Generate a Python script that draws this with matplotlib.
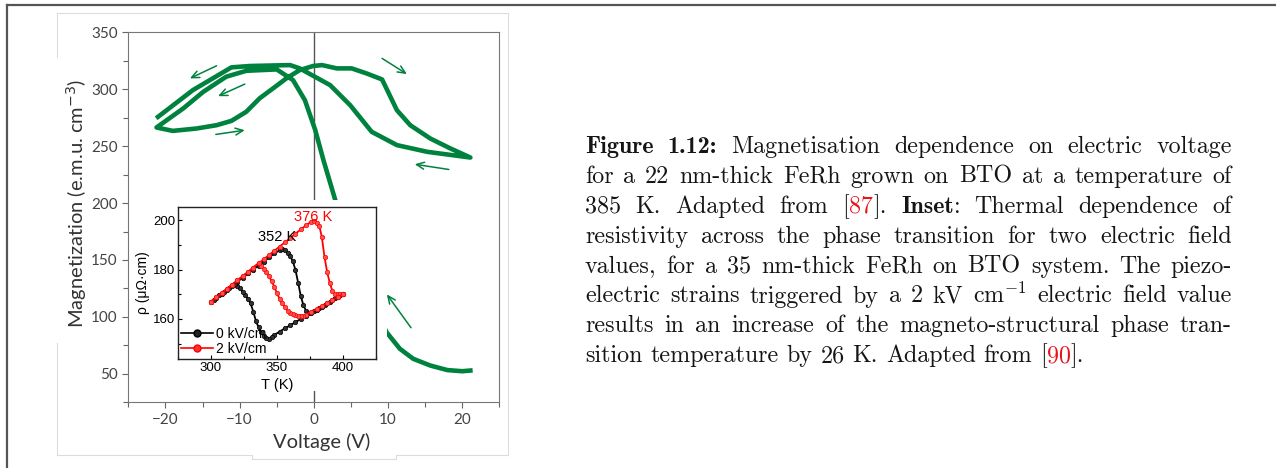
import re
import matplotlib.pyplot as plt
from matplotlib.patches import Rectangle
from matplotlib.lines import Line2D
from matplotlib.ticker import MultipleLocator

W, H = 1276, 468
green = '#00823f'
ink = '#151515'
red = '#e8141b'

# magnetisation loop: first sweep from +21 V, then the full loop
volt = [21.1, 20.0, 18.0, 15.7, 13.4, 11.6, 9.8, 7.0, 4.8, 2.9, 1.3, 0.2, -1.2, -2.8, -5.0, -9.1, -11.8, -14.9, -17.6, -21.2,
        -19.0, -15.8, -13.1, -11.1, -9.1, -7.3, -5.5, -3.7, -1.9, -0.1, 1.1, 3.1, 5.1, 7.1, 9.2, 11.2, 13.0, 15.7, 18.4, 21.1,
        15.3, 11.2, 7.8, 4.9, 2.2, -1.9, -3.2, -8.6, -11.1, -16.3, -21.0]
mag = [52.9, 52.3, 53.3, 57.3, 63.2, 72.0, 86.6, 125, 165, 202.5, 237.7, 264, 290.4, 308, 317.4, 316.2, 311, 297.7, 283.1, 266.4,
       263.4, 265.5, 268.4, 272.2, 280.2, 292, 300.7, 309.5, 316.8, 320.4, 321.2, 318.3, 318.3, 313.9, 308.6, 281.6, 268.4, 256.7, 248, 240,
       245, 250.9, 262.6, 286, 303.6, 318.3, 321.2, 320.4, 319.2, 299.2, 275.7]

# sweep direction arrows (tail -> head)
arrow_tail = [(-13.1, 320.6), (-9.3, 304.5), (-13.2, 260.3), (9.2, 327.1), (18.2, 229.5), (13.1, 90.5)]
arrow_head = [(-16.7, 309.5), (-12.9, 293.9), (-9.3, 264.0), (12.55, 313.3), (13.6, 234.1), (9.85, 119.8)]

# inset: resistivity vs temperature, 0 kV/cm
t0_up = [300, 304, 308, 312, 316, 320, 324, 328, 332, 336, 340, 344, 348, 352, 354, 356, 358, 360, 362, 364, 366, 368, 370,
         372, 374, 378, 382, 386, 390, 394, 398, 400]
r0_up = [167.0, 168.6, 170.2, 171.9, 173.5, 175.1, 176.7, 178.4, 180.0, 181.6, 183.2, 184.9, 186.5, 187.8, 188.2, 187.8, 186.8,
         185.5, 183.3, 179.8, 174.7, 169.3, 165.6, 163.3, 162.5, 163.2, 164.5, 165.8, 167.0, 168.3, 169.5, 170.1]
t0_dn = [400, 396, 392, 388, 384, 380, 376, 372, 368, 364, 360, 356, 352, 348, 346, 344, 342, 340, 338, 336, 334, 332, 330,
         328, 326, 324, 322, 320, 318, 314, 310, 306, 302, 300]
r0_dn = [170.0, 168.8, 167.5, 166.3, 165.0, 163.8, 162.5, 161.2, 160.0, 158.7, 157.4, 156.2, 154.9, 153.5, 152.6, 152.0, 152.2,
         153.2, 154.6, 156.6, 159.3, 163.0, 166.3, 168.0, 169.6, 171.0, 172.4, 173.4, 174.0, 172.7, 171.1, 169.5, 167.8, 167.0]
# 2 kV/cm
t2_up = [300, 304, 308, 312, 316, 320, 324, 328, 332, 336, 340, 344, 348, 352, 356, 360, 364, 368, 372, 376, 378, 380, 382,
         384, 386, 388, 390, 392, 394, 396, 398, 400]
r2_up = [167.0, 168.7, 170.4, 172.2, 173.9, 175.6, 177.3, 179.0, 180.8, 182.5, 184.2, 185.9, 187.6, 189.3, 191.0, 192.7, 194.5,
         196.2, 197.9, 199.4, 199.7, 199.0, 197.8, 193.0, 185.0, 179.0, 174.5, 171.3, 170.3, 170.0, 170.0, 170.0]
t2_dn = [400, 396, 392, 388, 384, 380, 376, 372, 370, 368, 366, 364, 362, 360, 358, 356, 354, 352, 350, 348, 346, 344, 342,
         340, 338, 336, 332, 328, 324, 320, 316, 312, 308, 304, 300]
r2_dn = [170.0, 168.8, 167.6, 166.4, 165.2, 164.1, 162.9, 161.8, 161.3, 161.3, 161.4, 161.6, 162.0, 162.5, 163.4, 164.8, 166.3,
         168.1, 170.4, 173.0, 175.2, 177.2, 178.9, 180.4, 181.6, 182.5, 180.8, 179.0, 177.3, 175.6, 173.9, 172.2, 170.4, 168.7, 167.0]

# *bold*, |red|
caption = [
    "*Figure* *1.12:* Magnetisation dependence on electric voltage",
    "for a 22 nm-thick FeRh grown on BTO at a temperature of",
    "385 K. Adapted from [|87|]. *Inset*: Thermal dependence of",
    "resistivity across the phase transition for two electric field",
    "values, for a 35 nm-thick FeRh on BTO system. The piezo-",
    "electric strains triggered by a 2 kV cm$^{-1}$ electric field value",
    "results in an increase of the magneto-structural phase tran-",
    "sition temperature by 26 K. Adapted from [|90|].",
]


def fx(x):
    return x / W


def fy(y):
    return 1 - y / H


sans = ['Lato', 'DejaVu Sans']
fig = plt.figure(figsize=(W / 100, H / 100), dpi=100)

# page frame
fig.add_artist(Line2D([fx(7), 1], [fy(5), fy(5)], color='#555555', lw=1.6))
fig.add_artist(Line2D([fx(7), fx(7)], [fy(5), 0], color='#555555', lw=1.6))
# border of the pasted figure
pale = '#dcdcdc'
for xs, ys in [([57, 57], [13, 57]), ([57, 57], [343, 455]), ([57, 508], [13, 13]), ([508, 508], [13, 455]),
               ([57, 252, 252, 396, 396, 508], [455, 455, 459, 459, 455, 455])]:
    fig.add_artist(Line2D([fx(v) for v in xs], [fy(v) for v in ys], color=pale, lw=0.8))

# main panel
ax = fig.add_axes([fx(128.3), fy(402.3), (499.3 - 128.3) / W, (402.3 - 32.3) / H])
ax.plot(volt, mag, color=green, lw=3.3, solid_joinstyle='round', zorder=3)
ax.axvline(0, color='#555555', lw=1.0, zorder=2)
for (x0, y0), (x1, y1) in zip(arrow_tail, arrow_head):
    ax.annotate('', xy=(x1, y1), xytext=(x0, y0),
                arrowprops=dict(arrowstyle='->,head_length=0.55,head_width=0.25', color=green, lw=1.1,
                                shrinkA=0, shrinkB=0))
ax.set_xlim(-25, 25)
ax.set_ylim(25, 350)
ax.set_xticks([-20, -10, 0, 10, 20])
ax.set_xticklabels(['\u221220', '\u221210', '0', '10', '20'])
ax.xaxis.set_minor_locator(MultipleLocator(5))
ax.set_yticks([50, 100, 150, 200, 250, 300, 350])
ax.yaxis.set_minor_locator(MultipleLocator(25))
ax.tick_params(which='both', direction='out', color='#666666', width=0.8)
ax.tick_params(which='major', length=4.5, labelsize=11, labelcolor='#444444', pad=3)
ax.tick_params(which='minor', length=3.5)
for lab in ax.get_xticklabels() + ax.get_yticklabels():
    lab.set_family(sans)
for s in ax.spines.values():
    s.set_color('#777777')
    s.set_linewidth(0.8)
fig.text(fx(322), fy(442), 'Voltage (V)', ha='center', va='center', fontsize=14.5, color='#333333', family=sans)
fig.text(fx(77), fy(203), 'Magnetization (e.m.u. cm$^{-3}$)', rotation=90, ha='center', va='center',
         fontsize=14.5, color='#333333', family=sans, math_fontfamily='dejavusans')

# white card behind the inset
fig.add_artist(Rectangle((fx(135), fy(391)), (387 - 135) / W, (391 - 200) / H, transform=fig.transFigure,
                         facecolor='white', edgecolor='none', zorder=1))

# inset panel
arial = ['Liberation Sans', 'DejaVu Sans']
axi = fig.add_axes([fx(178), fy(359), (376 - 178) / W, (359 - 207) / H])
axi.set_zorder(2)
kw = dict(marker='o', ms=3.2, lw=1.3, mew=0.5)
axi.plot(t0_up, r0_up, color='black', mfc='#333333', **kw)
axi.plot(t0_dn, r0_dn, color='black', mfc='#333333', **kw)
axi.plot(t2_up, r2_up, color='#ff0000', mfc='#ff5050', **kw)
axi.plot(t2_dn, r2_dn, color='#ff0000', mfc='#ff5050', **kw)
axi.set_xlim(275, 425)
axi.set_ylim(143.8, 205.3)
axi.set_xticks([300, 350, 400])
axi.xaxis.set_minor_locator(MultipleLocator(25))
axi.set_yticks([160, 180, 200])
axi.yaxis.set_minor_locator(MultipleLocator(10))
axi.tick_params(which='both', direction='in', width=0.8, labelsize=9.5, pad=2)
axi.tick_params(which='major', length=3)
axi.tick_params(which='minor', length=2)
for lab in axi.get_xticklabels() + axi.get_yticklabels():
    lab.set_family(arial)
for s in axi.spines.values():
    s.set_linewidth(1.0)
    s.set_color('#222222')
axi.set_xlabel('T (K)', fontsize=10.5, family=arial, labelpad=3)
axi.set_ylabel('\u03c1 (\u03bc\u03a9\u00b7cm)', fontsize=10, family=arial, labelpad=2)
axi.text(349.9, 193.2, '352 K', ha='center', va='center', fontsize=10.5, family=arial)
axi.text(377.7, 201.3, '376 K', ha='center', va='center', fontsize=10.5, family=arial, color='#ff0000')
handles = [Line2D([], [], color='black', marker='o', ms=5, lw=1.2, mfc='#222222'),
           Line2D([], [], color='#ff0000', marker='o', ms=5, lw=1.2, mfc='#ff3030')]
axi.legend(handles, ['0 kV/cm', '2 kV/cm'], loc='lower left', frameon=False, prop={'family': arial, 'size': 10},
           handlelength=2.3, handletextpad=0.2, labelspacing=0.1, borderaxespad=0.1, borderpad=0.1)

# justified caption
cap_x0, cap_x1 = 585, 1232
cap_base0, cap_step = 153, 29.9
fs_cap = 17.3


def parts(word):
    out = []
    for seg in re.split(r'(\*[^*]+\*|\|[^|]+\|)', word):
        if not seg:
            continue
        if seg[0] == '*':
            out.append((seg[1:-1], 'cmb10', ink))
        elif seg[0] == '|':
            out.append((seg[1:-1], 'cmr10', red))
        else:
            out.append((seg, 'cmr10', ink))
    return out


renderer = fig.canvas.get_renderer()
for i, line in enumerate(caption):
    y = fy(cap_base0 + i * cap_step)
    words = []
    for w in line.split(' '):
        arts = []
        for s, fam, col in parts(w):
            t = fig.text(0, y, s, family=fam, color=col, fontsize=fs_cap, va='baseline', math_fontfamily='cm')
            arts.append((t, t.get_window_extent(renderer).width))
        words.append(arts)
    widths = [sum(wd for _, wd in a) for a in words]
    if i < len(caption) - 1:
        gap = (cap_x1 - cap_x0 - sum(widths)) / (len(words) - 1)
    else:
        gap = 0.33 * fs_cap * 100 / 72
    x = cap_x0
    for arts in words:
        for t, wd in arts:
            t.set_x(fx(x))
            x += wd
        x += gap

fig.savefig('out.png', dpi=100)
